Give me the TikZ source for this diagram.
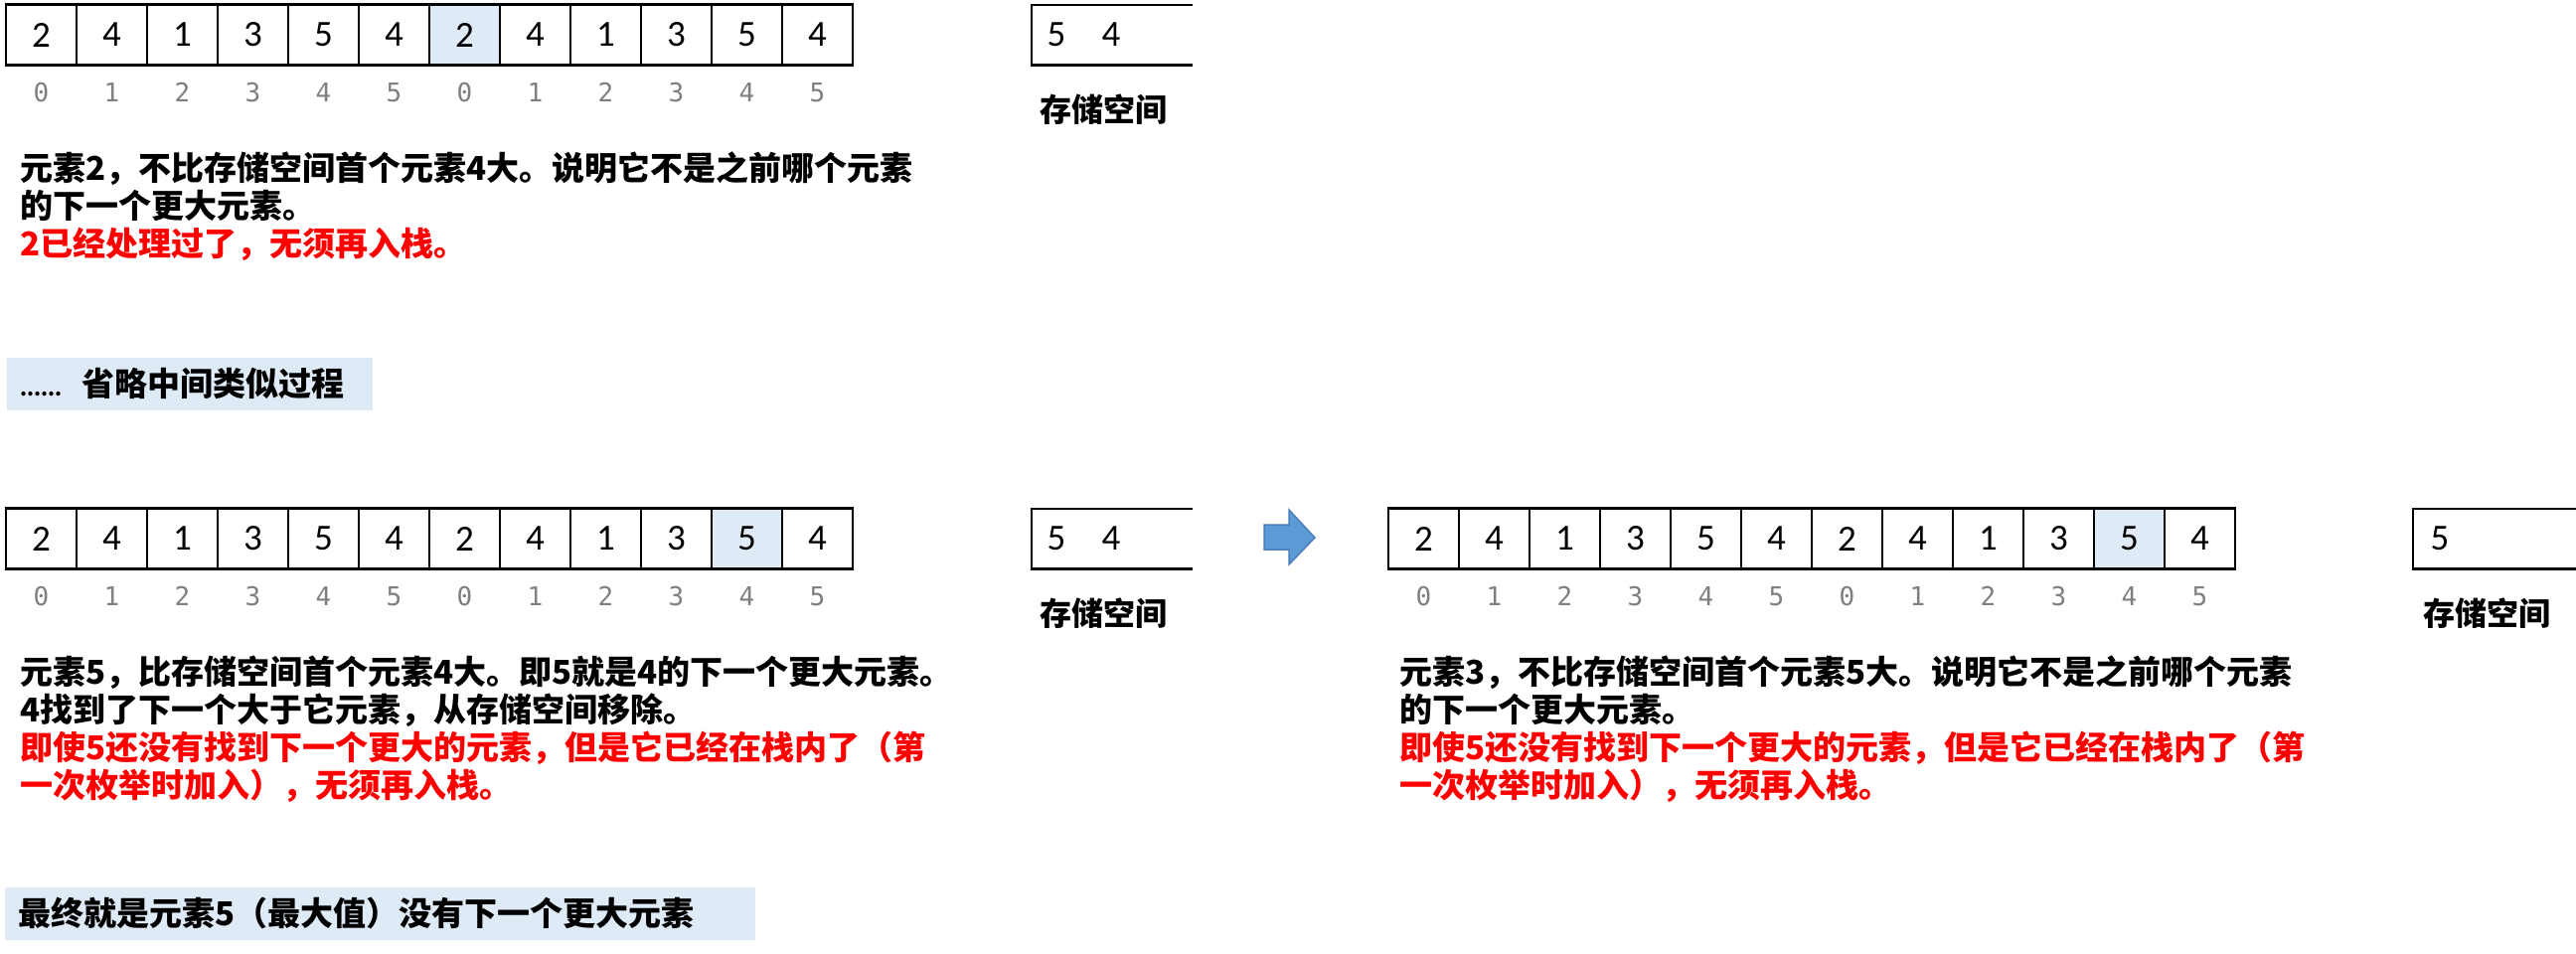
\documentclass[tikz,border=0pt]{standalone}
\usepackage{fontspec}
\newfontfamily\cjk{Noto Sans CJK SC}
\newfontfamily\cellfont{Carlito}
\newfontfamily\idxfont{DejaVu Sans Mono}
\definecolor{hl}{HTML}{DEEAF6}
\definecolor{graybg}{HTML}{DEEAF6}
\definecolor{arrfill}{HTML}{5B9BD5}
\definecolor{arrline}{HTML}{4A7EBB}
\definecolor{idxgray}{HTML}{7F7F7F}
\definecolor{txtred}{HTML}{FF0000}
\tikzset{
  cell/.style={draw=black, line width=1.8pt, minimum width=71pt, minimum height=60pt, inner sep=0pt, font=\cellfont\fontsize{37}{37}\selectfont},
  idx/.style={inner sep=0pt, text=idxgray, font=\idxfont\fontsize{26}{26}\selectfont},
  rail/.style={line width=3pt},
  store/.style={minimum height=60pt, inner sep=0pt},
  storeline/.style={line width=2.6pt},
  storeval/.style={inner sep=0pt, font=\cellfont\fontsize{37}{37}\selectfont},
  storelabel/.style={inner sep=0pt, font=\cjk\bfseries\fontsize{32}{32}\selectfont},
  body/.style={anchor=west, inner sep=0pt, font=\cjk\bfseries\fontsize{33}{38}\selectfont, text height=26pt, text depth=2pt},
  note/.style={body, text=txtred},
  graybox/.style={anchor=north west, fill=graybg, minimum height=53pt, inner xsep=13pt, inner ysep=0pt, align=left, text height=26pt, text depth=2pt, font=\cjk\bfseries\fontsize{33}{33}\selectfont},
  blockarrow/.style={fill=arrfill, draw=arrline, line width=1.5pt, line join=miter},
}
\newcommand\drawarray[4]{%
  \foreach \v [count=\i from 0] in {2,4,1,3,5,4,2,4,1,3,5,4} {
    \ifnum\i=#4 \def\cf{hl}\else\def\cf{white}\fi
    \node[cell, fill=\cf] (#1c\i) at ({#2+35.5+71*\i},{#3+30}) {\v};
    \pgfmathtruncatemacro\k{mod(\i,6)}
    \node[idx] (#1i\i) at ({#2+35.5+71*\i},{#3+88}) {\k};
  }
  \draw[rail] (#1c0.north west) -- (#1c11.north east);
  \draw[rail] (#1c0.south west) -- (#1c11.south east);
}
\begin{document}
\begin{tikzpicture}[x=1pt,y=-1pt]
\fill[white] (0,0) rectangle (2592,959);
\useasboundingbox (0,0) rectangle (2592,959);

% arrays
\drawarray{a}{6}{5}{6}
\drawarray{b}{6}{512}{10}
\drawarray{c}{1397}{512}{10}

% storage 1
\node[store, minimum width=162pt] (s1) at (1119,35) {};
\draw[storeline] (s1.north east) -- (s1.north west) -- (s1.south west) -- (s1.south east);
\node[storeval] (s1a) at (1063,35) {5};
\node[storeval] (s1b) at (1118,35) {4};
\node[storelabel] (s1l) at (1110,110) {存储空间};

% storage 2
\node[store, minimum width=162pt] (s2) at (1119,542) {};
\draw[storeline] (s2.north east) -- (s2.north west) -- (s2.south west) -- (s2.south east);
\node[storeval] (s2a) at (1063,542) {5};
\node[storeval] (s2b) at (1118,542) {4};
\node[storelabel] (s2l) at (1110,617) {存储空间};

% storage 3
\node[store, minimum width=164pt] (s3) at (2510,542) {};
\draw[storeline] (s3.north east) -- (s3.north west) -- (s3.south west) -- (s3.south east);
\node[storeval] (s3a) at (2455,542) {5};
\node[storelabel] (s3l) at (2502,617) {存储空间};

% block arrow
\draw[blockarrow] (1272,528) -- (1297,528) -- (1297,513) -- (1323,541) -- (1297,568) -- (1297,553) -- (1272,553) -- cycle;

% text block 1
\node[body] (t1a) at (20,169) {元素2，不比存储空间首个元素4大。说明它不是之前哪个元素};
\node[body] (t1b) at (20,207) {的下一个更大元素。};
\node[note] (t1c) at (20,245) {2已经处理过了，无须再入栈。};

% gray box 1
\node[graybox, minimum width=368pt, text width=342pt] (g1) at (7,360) {{\fontsize{20}{20}\selectfont ......}\hspace{20pt}省略中间类似过程};

% text block 2
\node[body] (t2a) at (20,676) {元素5，比存储空间首个元素4大。即5就是4的下一个更大元素。};
\node[body] (t2b) at (20,714) {4找到了下一个大于它元素，从存储空间移除。};
\node[note] (t2c) at (20,752) {即使5还没有找到下一个更大的元素，但是它已经在栈内了（第};
\node[note] (t2d) at (20,790) {一次枚举时加入），无须再入栈。};

% text block 3
\node[body] (t3a) at (1408,676) {元素3，不比存储空间首个元素5大。说明它不是之前哪个元素};
\node[body] (t3b) at (1408,714) {的下一个更大元素。};
\node[note] (t3c) at (1408,752) {即使5还没有找到下一个更大的元素，但是它已经在栈内了（第};
\node[note] (t3d) at (1408,790) {一次枚举时加入），无须再入栈。};

% gray box 2
\node[graybox, minimum width=755pt, text width=729pt] (g2) at (5,893) {最终就是元素5（最大值）没有下一个更大元素};
\end{tikzpicture}
\end{document}
